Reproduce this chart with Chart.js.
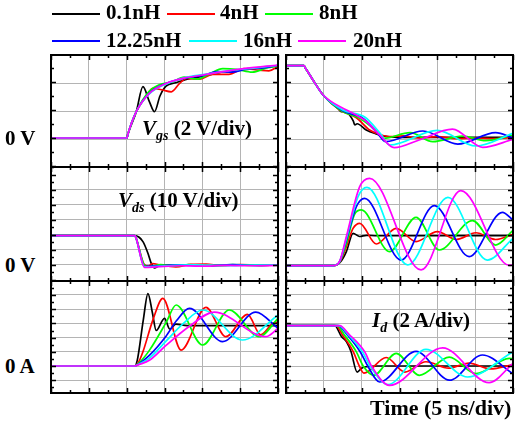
<!DOCTYPE html>
<html>
<head>
<meta charset="utf-8">
<script src="https://cdn.jsdelivr.net/npm/chart.js@4.4.1/dist/chart.umd.min.js"></script>
<style>
html, body { margin: 0; padding: 0; background: #fff; }
#wrap { position: relative; width: 518px; height: 424px; overflow: hidden;
        font-family: "Liberation Serif", "Times New Roman", serif; font-weight: bold; color: #000; }
canvas { position: absolute; }
.t { position: absolute; font-size: 21px; line-height: 21px; white-space: nowrap; }
.i { font-style: italic; }
.t sub { font-size: 14px; vertical-align: -5px; line-height: 0; }
.sw { position: absolute; height: 2px; width: 48px; }
</style>
</head>
<body>
<div id="wrap">
  <!-- legend -->
  <div class="sw" style="left:52px;top:13px;background:#000"></div>
  <div class="t" style="left:106px;top:2px">0.1nH</div>
  <div class="sw" style="left:167px;top:13px;background:#f00"></div>
  <div class="t" style="left:220px;top:2px">4nH</div>
  <div class="sw" style="left:265px;top:13px;background:#0f0"></div>
  <div class="t" style="left:319px;top:2px">8nH</div>
  <div class="sw" style="left:52px;top:40px;background:#00f"></div>
  <div class="t" style="left:106px;top:30px">12.25nH</div>
  <div class="sw" style="left:189px;top:40px;background:#0ff"></div>
  <div class="t" style="left:243px;top:30px">16nH</div>
  <div class="sw" style="left:298px;top:40px;background:#f0f"></div>
  <div class="t" style="left:353px;top:30px">20nH</div>
</div>
<script>
// labels / colours
const labels = ['0.1nH', '4nH', '8nH', '12.25nH', '16nH', '20nH'];
const colors = ['#000000', '#ff0000', '#00ff00', '#0000ff', '#00ffff', '#ff00ff'];

// time in ns (5 ns/div), values [t, value]

// Vgs turn-on (V)
const vgsOn = [
  [[0,0],[10.04,0],[10.15,0.25],[11.27,1.88],[12.15,3.67],[13.0,2.6],[13.68,1.88],[14.4,3.0],[15.2,3.7],[16.5,3.95],[18,4.2],[20,4.4],[22.5,4.7],[25,4.85],[27.5,5.0],[30,5.15]],
  [[0,0],[10.04,0],[10.15,0.25],[11.27,1.88],[12.6,3.0],[13.47,3.55],[14.6,3.45],[15.9,3.3],[17.0,3.9],[17.9,4.26],[19.6,4.2],[21.4,4.55],[23.5,4.55],[25.5,4.95],[27.5,4.85],[28.8,4.8],[30,5.1]],
  [[0,0],[10.04,0],[10.15,0.25],[11.27,1.88],[13.0,3.35],[14.3,3.8],[16,4.0],[17.6,4.35],[19.3,4.2],[21,4.6],[22.7,4.95],[24.5,4.9],[26.6,4.7],[28.5,5.0],[30,5.15]],
  [[0,0],[10.04,0],[10.15,0.25],[11.27,1.88],[13.0,3.2],[15.2,3.9],[17.9,4.3],[20,4.45],[22,4.75],[24,4.7],[26,4.95],[28,5.0],[30,5.2]],
  [[0,0],[10.04,0],[10.15,0.25],[11.27,1.88],[13.0,3.15],[15.2,3.85],[18,4.35],[21,4.6],[24,4.85],[27,5.0],[30,5.2]],
  [[0,0],[10.04,0],[10.15,0.25],[11.27,1.88],[13.0,3.19],[15.2,3.9],[17.4,4.26],[20,4.5],[22.7,4.74],[25.7,4.98],[30,5.21]]
];

// Vgs turn-off (V)
const vgsOff = [
  [[0,5.17],[2.37,5.17],[2.6,4.97],[3.5,4.2],[4.91,3.07],[6.9,2.1],[7.3,1.88],[7.7,1.95],[8.4,1.64],[8.9,1.2],[9.1,0.93],[9.4,1.02],[10.6,0.57],[11.9,0.3],[13.2,0.12],[16,0.05],[22,0.05],[30,0.05]],
  [[0,5.17],[2.37,5.17],[2.6,4.97],[3.5,4.2],[4.91,3.07],[7.1,2.0],[9.3,1.45],[11.05,0.57],[12.4,0.25],[13.7,0.1],[15.5,0.15],[17.5,0.0],[20,0.1],[22.5,-0.05],[25,0.0],[27.5,-0.05],[30,0.05]],
  [[0,5.17],[2.37,5.17],[2.6,4.97],[3.5,4.2],[4.91,3.07],[7.3,1.95],[9.7,1.42],[11.7,0.6],[12.9,-0.02],[16.4,0.38],[19.4,-0.26],[23.3,0.14],[26.4,-0.19],[29.9,0.2]],
  [[0,5.17],[2.37,5.17],[2.6,4.97],[3.5,4.2],[4.91,3.07],[7.5,1.95],[10.2,1.4],[12.0,0.4],[13.2,-0.26],[18.1,0.5],[22.7,-0.43],[27.7,0.38],[30,0.0]],
  [[0,5.17],[2.37,5.17],[2.6,4.97],[3.5,4.2],[4.91,3.07],[7.5,2.0],[10.4,1.5],[12.5,0.3],[13.7,-0.5],[20.0,0.55],[25.1,-0.57],[30,0.33]],
  [[0,5.17],[2.37,5.17],[2.6,4.97],[3.5,4.2],[4.91,3.07],[8.0,2.0],[9.3,1.64],[10.6,1.2],[12.4,0.2],[14.3,-0.69],[17.6,-0.14],[22.0,0.64],[26.0,-0.67],[30,-0.1]]
];

// Vds turn-on (V)
const vdsOn = [
  [[0,19.6],[11.05,19.6],[12.15,15.6],[12.81,7.8],[13.25,1.1],[13.68,-2.0],[14.3,-0.5],[15.5,0.0],[30,0.0]],
  [[0,19.6],[11.05,19.6],[11.2,18.6],[12.3,0.5],[12.9,-0.8],[13.4,1.0],[14.6,-0.2],[16.5,-1.2],[18.5,0.4],[20.5,0.6],[22.5,-0.4],[25,0.3],[27.5,-0.2],[30,0.0]],
  [[0,19.6],[11.05,19.6],[11.2,18.6],[12.35,-0.3],[13.0,-1.4],[14.5,0.2],[16.2,-0.7],[18.2,0.2],[21,-0.7],[24,0.2],[27,-0.3],[30,0]],
  [[0,19.6],[11.05,19.6],[11.2,18.6],[12.37,-1.0],[14,-0.6],[17,0.1],[20,-0.6],[24,0.2],[27,-0.2],[30,0]],
  [[0,19.6],[11.05,19.6],[11.2,18.6],[12.37,-1.3],[15,-0.5],[19,0.1],[23,-0.4],[27,0.0],[30,0]],
  [[0,19.6],[11.05,19.6],[11.2,18.6],[12.37,-1.6],[14,-1.2],[17,-0.5],[20,-0.8],[23,-0.3],[26,-0.5],[30,-0.3]]
];

// Vds turn-off (V)
const vdsOff = [
  [[0,-0.4],[6.23,-0.4],[7.11,1.5],[7.98,8.9],[8.86,21.1],[9.74,19.0],[10.6,19.8],[12,19.5],[30,19.6]],
  [[0,-0.4],[6.23,-0.4],[7.11,2.0],[7.98,12.2],[8.86,24.4],[9.74,27.8],[11.93,14.0],[14.56,24.4],[17.19,15.6],[20.0,22.2],[22.5,17.0],[25.1,21.5],[27.7,17.0],[30,20.4]],
  [[0,-0.4],[6.23,-0.4],[7.11,2.2],[7.98,14.4],[9.08,34.0],[9.96,36.7],[13.68,8.9],[17.19,31.8],[20.26,10.0],[24.65,29.6],[27.7,13.3],[30,23.0]],
  [[0,-0.4],[6.23,-0.4],[7.11,2.4],[7.98,16.7],[9.3,38.9],[10.39,44.4],[15.2,3.3],[19.6,39.6],[24.2,5.6],[28.6,35.1],[30,30.0]],
  [[0,-0.4],[6.23,-0.4],[7.11,2.6],[7.98,17.8],[9.52,45.6],[10.7,51.8],[16.1,0.0],[21.4,45.1],[26.6,3.3],[30,17.8]],
  [[0,-0.4],[6.23,-0.4],[7.11,2.8],[7.98,19.0],[9.74,52.2],[11.05,57.8],[17.85,-3.3],[23.1,49.6],[29.5,-0.2],[30,0.0]]
];

// Id turn-on (A)
const idOn = [
  [[0,0],[11.05,0],[11.4,0.8],[12.2,6.5],[12.81,10.2],[13.4,7.5],[13.9,5.0],[15.0,6.7],[15.7,5.2],[16.5,5.9],[18,5.7],[30,5.7]],
  [[0,0],[11.05,0],[11.6,0.6],[12.15,2.0],[13.47,6.5],[14.78,9.53],[17.19,2.25],[20.48,8.26],[23.11,4.13],[25.97,7.28],[27.7,4.4],[29.3,6.0],[30,6.2]],
  [[0,0],[11.05,0],[11.6,0.4],[13.0,2.2],[15.2,6.1],[16.54,8.59],[20.04,2.96],[23.55,7.89],[27.5,4.13],[30,6.7]],
  [[0,0],[11.05,0],[11.6,0.3],[13.0,1.5],[15.2,4.2],[16.6,6.4],[18.29,8.12],[22.68,3.43],[27.06,7.6],[30,5.3]],
  [[0,0],[11.05,0],[11.6,0.25],[13.0,1.1],[15.2,3.5],[17.5,6.0],[20.04,7.89],[25.31,3.66],[30,7.2]],
  [[0,0],[11.05,0],[11.6,0.2],[13.0,0.8],[15.2,2.9],[18.3,5.6],[21.58,7.6],[28.38,4.13],[30,5.3]]
];

// Id turn-off (A)
const idOff = [
  [[0,5.68],[6.45,5.68],[7.3,4.2],[8.0,3.4],[8.6,2.0],[9.4,-0.85],[10.0,-0.3],[10.6,-0.1],[12,0.0],[30,0.0]],
  [[0,5.68],[6.6,5.68],[7.5,4.3],[8.9,2.0],[9.6,0.2],[10.3,-1.0],[13.25,1.2],[15.7,-0.85],[18.5,0.6],[21.5,-0.3],[24.2,0.4],[27,-0.4],[30,0.2]],
  [[0,5.68],[6.75,5.68],[7.7,4.4],[9.3,2.0],[10.2,0.0],[11.6,-1.3],[14.56,1.78],[17.63,-1.31],[21.58,1.26],[25.1,-1.08],[29.5,1.08],[30,1.0]],
  [[0,5.68],[6.9,5.68],[8.0,4.5],[9.8,2.0],[10.8,0.0],[12.37,-2.25],[17.19,2.07],[21.6,-2.0],[25.96,1.55],[30,-1.08]],
  [[0,5.68],[7.0,5.68],[8.15,4.5],[10.1,2.0],[11.1,0.0],[13.47,-2.6],[18.5,2.35],[24.0,-1.55],[30,2.02]],
  [[0,5.68],[7.1,5.68],[8.3,4.5],[10.4,2.0],[11.3,0.0],[13.68,-2.72],[20.7,2.54],[26.84,-2.35],[30,0.38]]
];

// frame + inward tick marks, like the scope plot
const framePlugin = {
  id: 'frame',
  afterDraw(chart, args, o) {
    const { ctx, chartArea: a, scales: { x, y } } = chart;
    ctx.save();
    ctx.strokeStyle = '#000';
    ctx.lineWidth = 1.5;
    ctx.beginPath();
    const isMajor = (v, step) => Math.abs(v / step - Math.round(v / step)) < 1e-6;
    for (let v = x.min; v <= x.max + 1e-6; v += o.xMinor) {
      const px = Math.round(x.getPixelForValue(v)) + 0.5;
      const len = isMajor(v, o.xStep) ? 5 : 3;
      ctx.moveTo(px, a.top); ctx.lineTo(px, a.top + len);
      ctx.moveTo(px, a.bottom); ctx.lineTo(px, a.bottom - len);
    }
    for (let v = Math.ceil(y.min / o.yMinor) * o.yMinor; v <= y.max + 1e-6; v += o.yMinor) {
      const py = Math.round(y.getPixelForValue(v)) + 0.5;
      const len = isMajor(v, o.yStep) ? 5 : 3;
      ctx.moveTo(a.left, py); ctx.lineTo(a.left + len, py);
      ctx.moveTo(a.right, py); ctx.lineTo(a.right - len, py);
    }
    ctx.stroke();
    ctx.lineWidth = 2;
    ctx.strokeRect(a.left, a.top, a.right - a.left, a.bottom - a.top);
    ctx.restore();
  }
};

const wrap = document.getElementById('wrap');
const pad = 3;

function makePanel(x0, y0, x1, y1, series, yMin, yMax, yStep, yMinor) {
  const cv = document.createElement('canvas');
  cv.width = x1 - x0 + 2 * pad;
  cv.height = y1 - y0 + 2 * pad;
  cv.style.left = (x0 - pad) + 'px';
  cv.style.top = (y0 - pad) + 'px';
  wrap.insertBefore(cv, wrap.firstChild);
  const grid = { color: '#b4b4b4', lineWidth: 1, drawTicks: false };
  return new Chart(cv, {
    type: 'line',
    data: {
      datasets: series.map((pts, i) => ({
        label: labels[i],
        data: pts.map(p => ({ x: p[0], y: p[1] })),
        borderColor: colors[i],
        borderWidth: 1.7,
        pointRadius: 0,
        fill: false,
        cubicInterpolationMode: 'monotone',
        order: series.length - 1 - i
      }))
    },
    options: {
      responsive: false,
      animation: false,
      devicePixelRatio: 1,
      layout: { padding: pad },
      plugins: {
        legend: { display: false },
        tooltip: { enabled: false },
        frame: { xStep: 5, xMinor: 2.5, yStep: yStep, yMinor: yMinor }
      },
      scales: {
        x: { type: 'linear', min: 0, max: 30, ticks: { display: false, stepSize: 5 }, grid: grid, border: { display: false } },
        y: { type: 'linear', min: yMin, max: yMax, ticks: { display: false, stepSize: yStep }, grid: grid, border: { display: false } }
      }
    },
    plugins: [framePlugin]
  });
}

// left column: turn-on, right column: turn-off
makePanel(51, 55, 278, 167, vgsOn, -2.07, 5.93, 2, 1);
makePanel(286, 55, 513, 167, vgsOff, -2.07, 5.93, 2, 1);
makePanel(51, 167, 278, 281, vdsOn, -10.67, 65.33, 10, 5);
makePanel(286, 167, 513, 281, vdsOff, -10.67, 65.33, 10, 5);
makePanel(51, 281, 278, 393, idOn, -3.8, 11.97, 2, 1);
makePanel(286, 281, 513, 393, idOff, -3.8, 11.97, 2, 1);

// axis notes
const notes = [
  ['<span>0 V</span>', 5, 128],
  ['<span>0 V</span>', 5, 255],
  ['<span>0 A</span>', 5, 356],
  ['<span class="i">V</span><sub class="i">gs</sub> (2 V/div)', 142, 118],
  ['<span class="i">V</span><sub class="i">ds</sub> (10 V/div)', 118, 190],
  ['<span class="i">I</span><sub class="i">d</sub> (2 A/div)', 372, 310],
  ['Time (5 ns/div)', 370, 397]
];
notes.forEach(n => {
  const d = document.createElement('div');
  d.className = 't';
  d.innerHTML = n[0];
  d.style.left = n[1] + 'px';
  d.style.top = n[2] + 'px';
  if (n[0].startsWith('Time')) d.style.fontSize = '22px';
  wrap.appendChild(d);
});
</script>
</body>
</html>
